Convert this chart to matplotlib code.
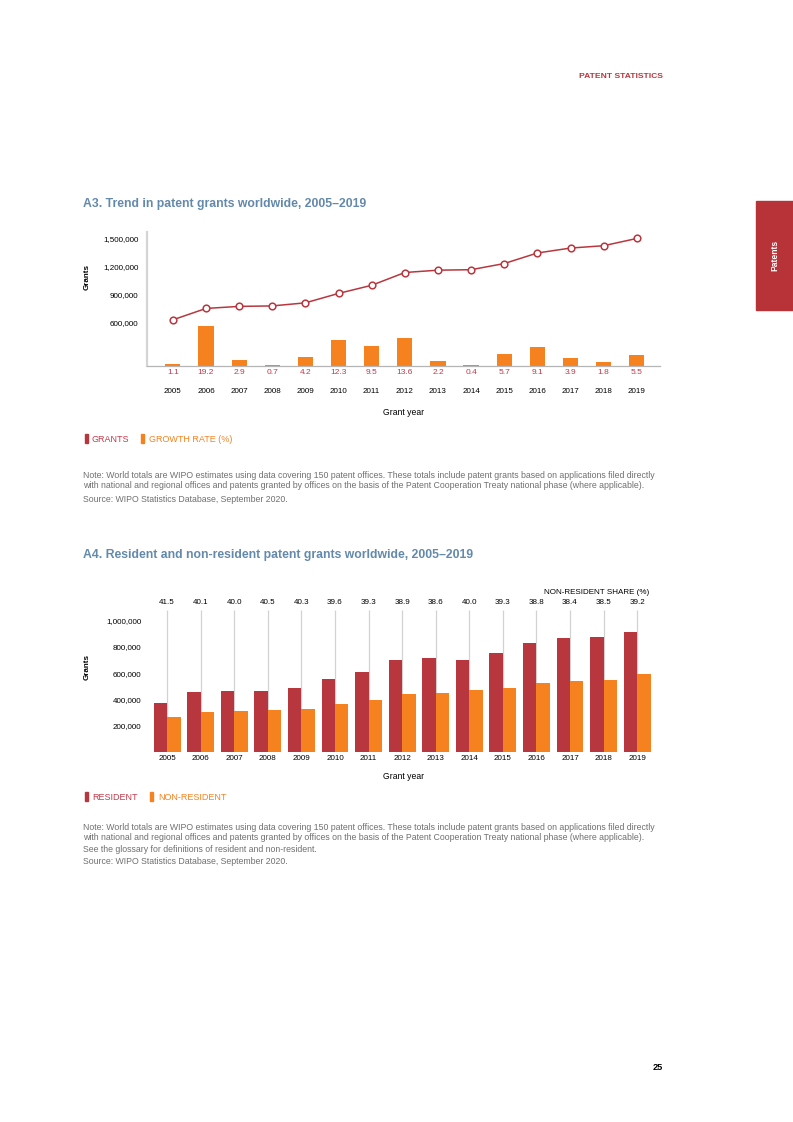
import numpy as np
import matplotlib
matplotlib.use("Agg")
import matplotlib.pyplot as plt
from matplotlib.patches import Rectangle

plt.rcParams['font.family'] = ['Liberation Sans', 'DejaVu Sans']

# data
years = [str(y) for y in range(2005, 2020)]
grants = [634000, 756000, 778000, 783000, 816000, 917000, 1004000, 1141000,
          1166000, 1171000, 1237000, 1350000, 1403000, 1428000, 1506000]
growth = [1.1, 19.2, 2.9, 0.7, 4.2, 12.3, 9.5, 13.6, 2.2, 0.4, 5.7, 9.1, 3.9, 1.8, 5.5]
resident = [371000, 453000, 467000, 466000, 487000, 554000, 609000, 697000,
            716000, 703000, 751000, 826000, 864000, 878000, 916000]
non_resident = [263000, 303000, 311000, 317000, 329000, 363000, 395000, 444000,
                450000, 468000, 486000, 524000, 539000, 550000, 590000]
nr_share = ["41.5", "40.1", "40.0", "40.5", "40.3", "39.6", "39.3", "38.9",
            "38.6", "40.0", "39.3", "38.8", "38.4", "38.5", "39.2"]

RED = "#b8373e"
ORANGE = "#f5821f"
LABRED = "#c2394b"
TITLE = "#6389ab"
GREY = "#707070"

W, H = 793, 1122
fig = plt.figure(figsize=(W / 100, H / 100), dpi=100)


def px_axes(left, top, right, bottom):
    return fig.add_axes([left / W, 1 - bottom / H, (right - left) / W, (bottom - top) / H])


def ftext(x, y, s, **kw):
    fig.text(x / W, 1 - y / H, s, **kw)


def legend_item(xsq, xtxt, y, color, txtcolor, label):
    fig.patches.append(Rectangle((xsq / W, 1 - (y + 4) / H), 3 / W, 9 / H,
                                 transform=fig.transFigure, color=color))
    ftext(xtxt, y, label, color=txtcolor, fontsize=6.5, va="center")


# page furniture
ftext(663, 77, "PATENT STATISTICS", color=RED, fontsize=6.1, fontweight="bold",
      ha="right", va="center")
fig.patches.append(Rectangle((756 / W, 1 - 310 / H), 37 / W, 109 / H,
                             transform=fig.transFigure, color="#b73337", zorder=0))
ftext(775, 255, "Patents", color="white", fontsize=6.2, fontweight="bold",
      rotation=90, ha="center", va="center")
ftext(663, 1068, "25", color="black", fontsize=6.6, fontweight="bold", ha="right", va="center")

x = np.arange(len(years))
TICK = 5.8

note_a = ("Note: World totals are WIPO estimates using data covering 150 patent offices. "
          "These totals include patent grants based on applications filed directly")
note_b = ("with national and regional offices and patents granted by offices on the basis "
          "of the Patent Cooperation Treaty national phase (where applicable).")
note_c = "See the glossary for definitions of resident and non-resident."
source = "Source: WIPO Statistics Database, September 2020."

# ---- A3 ----
ftext(83, 204, "A3. Trend in patent grants worldwide, 2005\u20132019", color=TITLE,
      fontsize=8.8, fontweight="bold", va="center")
ax = px_axes(147, 232, 660, 366)
axb = ax.twinx()
ax.set_zorder(2)
ax.patch.set_visible(False)
axb.bar(x, growth, width=0.46, color=ORANGE, zorder=1)
axb.set_ylim(0, 64.3)
axb.set_yticks([])
ax.plot(x, grants, color=RED, lw=1.1, marker="o", ms=4.8, mfc="white",
        mec=RED, mew=1.1, zorder=3)
ax.set_ylim(139300, 1575000)
ax.set_xlim(-0.78, 14.7)
ax.set_yticks([600000, 900000, 1200000, 1500000])
ax.set_yticklabels(["600,000", "900,000", "1,200,000", "1,500,000"])
ax.set_xticks(x)
ax.set_xticklabels(years)
ax.tick_params(axis="both", length=0, labelsize=TICK, colors="black")
ax.tick_params(axis="x", pad=16)
ax.tick_params(axis="y", pad=6)
for s in ["top", "right"]:
    ax.spines[s].set_visible(False)
    axb.spines[s].set_visible(False)
axb.spines["left"].set_visible(False)
axb.spines["bottom"].set_visible(False)
ax.spines["left"].set_color("#d4d4d4")
ax.spines["left"].set_linewidth(1.6)
ax.spines["bottom"].set_color("#b5b5b5")
ax.spines["bottom"].set_linewidth(0.9)
for i, g in enumerate(growth):
    ax.text(i, -7 / 134, f"{g:.1f}", transform=ax.get_xaxis_transform(),
            ha="center", va="center", fontsize=6.0, color=LABRED)
ax.set_xlabel("Grant year", fontsize=6.2, labelpad=9)
ftext(87, 277, "Grants", rotation=90, fontsize=5.8, fontweight="bold",
      ha="center", va="center")

legend_item(85, 92, 439, RED, LABRED, "GRANTS")
legend_item(141, 149, 439, ORANGE, ORANGE, "GROWTH RATE (%)")

for yy, line in [(475, note_a), (486, note_b), (500, source)]:
    ftext(83, yy, line, color=GREY, fontsize=6.35, va="center")

# ---- A4 ----
ftext(83, 555, "A4. Resident and non-resident patent grants worldwide, 2005\u20132019",
      color=TITLE, fontsize=8.8, fontweight="bold", va="center")
ax2 = px_axes(147, 610, 660, 752)
ax2.bar(x - 0.2, resident, width=0.4, color=RED, zorder=2)
ax2.bar(x + 0.2, non_resident, width=0.4, color=ORANGE, zorder=2)
ax2.vlines(x, 0, 1080000, color="#d2d2d2", lw=0.9, zorder=1)
ax2.set_xlim(-0.6, 14.68)
ax2.set_ylim(0, 1080000)
ax2.set_yticks([200000, 400000, 600000, 800000, 1000000])
ax2.set_yticklabels(["200,000", "400,000", "600,000", "800,000", "1,000,000"])
ax2.set_xticks(x)
ax2.set_xticklabels(years)
ax2.tick_params(axis="both", length=0, labelsize=TICK, colors="black")
ax2.tick_params(axis="x", pad=2.5)
ax2.tick_params(axis="y", pad=4)
for s in ax2.spines.values():
    s.set_visible(False)
ax2.set_xlabel("Grant year", fontsize=6.2, labelpad=7)
for i, s in enumerate(nr_share):
    ax2.text(i, 1 + 7 / 142, s, transform=ax2.get_xaxis_transform(),
             ha="center", va="center", fontsize=TICK)
ftext(649, 592, "NON-RESIDENT SHARE (%)", fontsize=TICK, ha="right", va="center")
ftext(87, 667, "Grants", rotation=90, fontsize=5.8, fontweight="bold",
      ha="center", va="center")

legend_item(85, 92, 797, RED, LABRED, "RESIDENT")
legend_item(150, 158, 797, ORANGE, ORANGE, "NON-RESIDENT")

for yy, line in [(827, note_a), (838, note_b), (849, note_c), (862, source)]:
    ftext(83, yy, line, color=GREY, fontsize=6.35, va="center")

fig.savefig("out.png", dpi=100)
